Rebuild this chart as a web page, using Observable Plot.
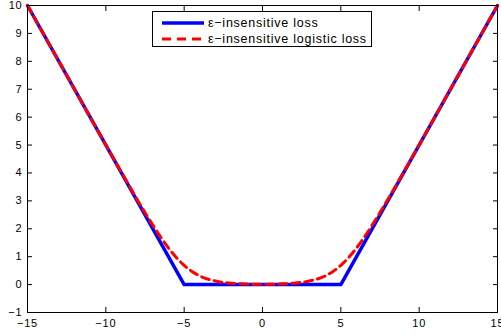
<!DOCTYPE html>
<html><head><meta charset="utf-8">
<script src="https://cdn.jsdelivr.net/npm/d3@7"></script>
<script src="https://cdn.jsdelivr.net/npm/@observablehq/plot@0.6"></script>
<style>
body{margin:0;background:#fff;}
#wrap{position:relative;width:501px;height:336px;font-family:"Liberation Sans",Arial,sans-serif;}
#wrap svg text{letter-spacing:0.8px;}
#legend{position:absolute;left:152px;top:11px;width:218px;height:34px;border:1px solid #000;background:#fff;font-size:12.5px;letter-spacing:0.75px;}
#legend .row{position:absolute;left:0;height:16px;display:flex;align-items:center;}
#legend svg{display:block;}
#legend span{margin-left:4px;white-space:nowrap;}
</style></head>
<body><div id="wrap"></div>
<script>
const xTicks = [-15, -10, -5, 0, 5, 10, 15];
const yTicks = [-1, 0, 1, 2, 3, 4, 5, 6, 7, 8, 9, 10];
const seriesNames = ["ε−insensitive loss", "ε−insensitive logistic loss"];
const seriesColors = ["#0000ff", "#ff0000"];
const blueX = [-15, -5, 5, 15];
const blueY = [10, 0, 0, 10];
const redX = [-15, -12, -10, -9, -8, -7.5, -7, -6.5, -6, -5.5, -5, -4.5, -4, -3.5, -3, -2.5, -2, -1, 0, 1, 2, 2.5, 3, 3.5, 4, 4.5, 5, 5.5, 6, 6.5, 7, 7.5, 8, 9, 10, 12, 15];
const redY = [10, 7, 5, 4.02, 3.05, 2.58, 2.13, 1.7, 1.31, 0.97, 0.69, 0.47, 0.31, 0.2, 0.13, 0.08, 0.05, 0.02, 0.01, 0.02, 0.05, 0.08, 0.13, 0.2, 0.31, 0.47, 0.69, 0.97, 1.31, 1.7, 2.13, 2.58, 3.05, 4.02, 5, 7, 10];

const blue = blueX.map((x, i) => ({x, y: blueY[i]}));
const red = redX.map((x, i) => ({x, y: redY[i]}));
const fmt = d => d < 0 ? "\u2212" + Math.abs(d) : String(d);

const plot = Plot.plot({
  width: 501, height: 336,
  marginLeft: 27, marginRight: 4, marginTop: 5, marginBottom: 24,
  style: {fontFamily: '"Liberation Sans", Arial, sans-serif', fontSize: "11px", color: "#000", background: "#fff"},
  x: {domain: [-15, 15]},
  y: {domain: [-1, 10]},
  marks: [
    Plot.line(blue, {x: "x", y: "y", stroke: seriesColors[0], strokeWidth: 3.5}),
    Plot.line(red, {x: "x", y: "y", stroke: seriesColors[1], strokeWidth: 3, strokeDasharray: "8,5", curve: "catmull-rom"}),
    Plot.frame({stroke: "#000", strokeWidth: 1}),
    Plot.axisX(xTicks, {anchor: "bottom", tickSize: -5, tickPadding: 12, tickFormat: fmt, label: null, fontSize: 11}),
    Plot.axisX(xTicks, {anchor: "top", tickSize: -5, tickFormat: () => "", label: null}),
    Plot.axisY(yTicks, {anchor: "left", tickSize: -5, tickPadding: 10, tickFormat: fmt, label: null, fontSize: 11}),
    Plot.axisY(yTicks, {anchor: "right", tickSize: -5, tickFormat: () => "", label: null})
  ]
});
const wrap = document.getElementById("wrap");
wrap.appendChild(plot);

const legend = document.createElement("div");
legend.id = "legend";
seriesNames.forEach((name, i) => {
  const row = document.createElement("div");
  row.className = "row";
  row.style.top = (i === 0 ? 3 : 19) + "px";
  row.style.left = "9px";
  const dash = i === 1 ? 'stroke-dasharray="9,6"' : "";
  row.innerHTML = `<svg width="42" height="6"><line x1="0" y1="3" x2="42" y2="3" stroke="${seriesColors[i]}" stroke-width="${i === 0 ? 3.5 : 3}" ${dash}/></svg><span>${name}</span>`;
  legend.appendChild(row);
});
wrap.appendChild(legend);
</script></body></html>
